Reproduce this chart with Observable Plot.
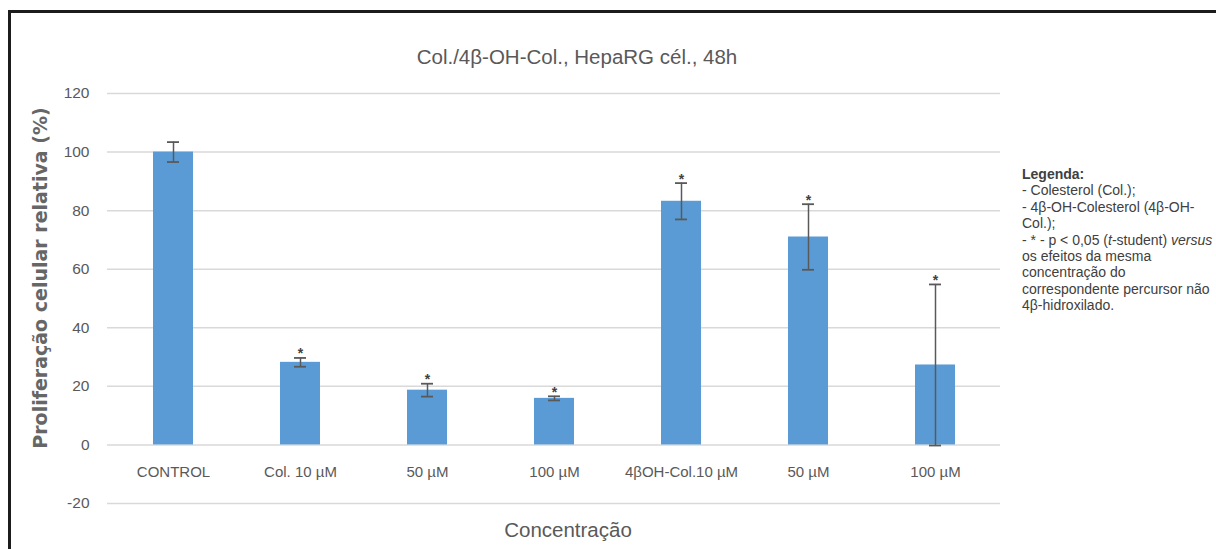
<!DOCTYPE html>
<html>
<head>
<meta charset="utf-8">
<script src="https://cdn.jsdelivr.net/npm/d3@7"></script>
<script src="https://cdn.jsdelivr.net/npm/@observablehq/plot@0.6"></script>
<style>
  html, body { margin: 0; padding: 0; background: #fff; overflow: hidden; }
  #page { position: relative; width: 1216px; height: 549px; overflow: hidden; }
  #frame { position: absolute; left: 8px; top: 10px; width: 1400px; height: 800px;
           border-top: 3px solid #1c1c1c; border-left: 3px solid #1c1c1c; box-sizing: border-box; }
  #chart { position: absolute; left: 0; top: 0; }
  .txt { position: absolute; font-family: "Liberation Sans", Arial, sans-serif; color: #595959; white-space: nowrap; }
  #title { left: 0; width: 1154px; top: 45px; text-align: center; font-size: 20.5px; line-height: 24px; }
  #ytitle { left: 40px; top: 278px; transform: translate(-50%, -50%) rotate(-90deg);
            font-family: "DejaVu Sans", Verdana, sans-serif; font-weight: bold; font-size: 19px; color: #666; }
  #xtitle { left: 568px; top: 530px; transform: translate(-50%, -50%); font-size: 20.5px; }
  #legend { left: 1022px; top: 166px; font-size: 14px; line-height: 16.4px; color: #404040; }
</style>
</head>
<body>
<div id="page">
  <div id="frame"></div>
  <div id="chart"></div>
  <div class="txt" id="title">Col./4β-OH-Col., HepaRG cél., 48h</div>
  <div class="txt" id="ytitle">Proliferação celular relativa (%)</div>
  <div class="txt" id="xtitle">Concentração</div>
  <div class="txt" id="legend">
    <b>Legenda:</b><br>
    - Colesterol (Col.);<br>
    - 4β-OH-Colesterol (4β-OH-<br>
    Col.);<br>
    - * - p &lt; 0,05 (<i>t</i>-student) <i>versus</i><br>
    os efeitos da mesma<br>
    concentração do<br>
    correspondente percursor não<br>
    4β-hidroxilado.
  </div>
</div>
<script>
// Treatment groups (in plotting order) and their tick labels
const groupLabels = ["CONTROL", "Col. 10 µM", "50 µM", "100 µM", "4βOH-Col.10 µM", "50 µM", "100 µM"];
// Mean relative proliferation (%)
const means = [100, 28.2, 18.7, 15.9, 83.2, 71.0, 27.3];
// Error (± SD)
const errors = [3.4, 1.5, 2.2, 0.7, 6.2, 11.2, 27.5];
// Significance flag (p < 0.05) for each group
const significant = [false, true, true, true, true, true, true];
// Value axis ticks
const yTicks = [-20, 0, 20, 40, 60, 80, 100, 120];

const rows = groupLabels.map((label, i) => ({
  key: i,
  label,
  mean: means[i],
  lo: means[i] - errors[i],
  hi: means[i] + errors[i],
  sig: significant[i]
}));

const axisFont = "Liberation Sans, Arial, sans-serif";

const chart = Plot.plot({
  width: 1010,
  height: 549,
  marginLeft: 107,
  marginRight: 10,
  marginTop: 93,
  marginBottom: 46,
  style: { background: "transparent", overflow: "visible", fontFamily: axisFont },
  x: { type: "band", domain: rows.map(d => d.key), paddingInner: 0.686, paddingOuter: 0.343, label: null },
  y: { domain: [-20, 120], label: null },
  marks: [
    Plot.gridY({ ticks: yTicks, stroke: "#d9d9d9", strokeOpacity: 1, strokeWidth: 1.5 }),
    Plot.axisY({ ticks: yTicks, tickSize: 0, tickPadding: 18, tickFormat: d => String(d),
                 fontSize: 15.5, fill: "#595959", label: null }),
    Plot.axisX({ anchor: "bottom", tickSize: 0, tickPadding: 0, dy: -37,
                 tickFormat: i => groupLabels[i], fontSize: 15, fill: "#595959", label: null }),
    Plot.barY(rows, { x: "key", y: "mean", fill: "#5b9bd5" }),
    Plot.ruleX(rows, { x: "key", y1: "lo", y2: "hi", stroke: "#595959", strokeWidth: 1.5 }),
    Plot.tickY(rows, { x: "key", y: "hi", insetLeft: 14, insetRight: 14, stroke: "#595959", strokeWidth: 1.8 }),
    Plot.tickY(rows, { x: "key", y: "lo", insetLeft: 14, insetRight: 14, stroke: "#595959", strokeWidth: 1.8 }),
    Plot.text(rows.filter(d => d.sig), { x: "key", y: "hi", text: () => "*", dy: -4,
                 fontSize: 14, fontWeight: "bold", fill: "#404040" })
  ]
});
document.getElementById("chart").append(chart);
</script>
</body>
</html>
